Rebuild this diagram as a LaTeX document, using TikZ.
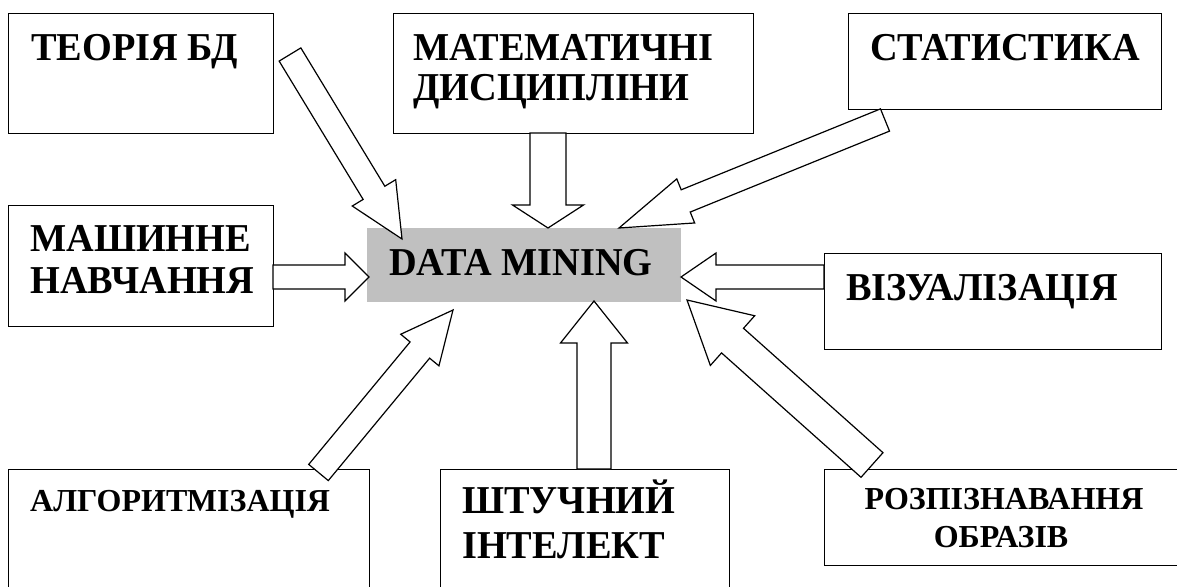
\documentclass[tikz,border=0pt]{standalone}
\usepackage{fontspec}
\setmainfont{Liberation Serif}
\newfontfamily\narrowserif[FakeStretch=0.97]{Liberation Serif}
\usetikzlibrary{calc}
\definecolor{dmgray}{HTML}{C0C0C0}
\tikzset{
  box/.style={draw=black, line width=1.4pt, fill=white, inner sep=0pt, anchor=north west},
  dmbox/.style={fill=dmgray, draw=none, inner sep=0pt, anchor=north west},
  bigtxt/.style={font=\narrowserif\bfseries\fontsize{39.5}{42}\selectfont, inner sep=0pt, anchor=base west},
  midtxt/.style={font=\bfseries\fontsize{32}{34}\selectfont, inner sep=0pt, anchor=base west},
  smalltxt/.style={font=\bfseries\fontsize{32}{34}\selectfont, inner sep=0pt, anchor=base},
  blk/.style={draw=black, line width=1.2pt, fill=white, line join=miter},
}
\newcommand\blockarr[5]{% tail, tip, shaft half, head half, head length
  \coordinate (hb) at ($(#2)!#5!(#1)$);
  \draw[blk] ($(#1)!#3!90:(#2)$) -- ($(hb)!#3!90:(#2)$) -- ($(hb)!#4!90:(#2)$)
    -- (#2) -- ($(hb)!#4!-90:(#2)$) -- ($(hb)!#3!-90:(#2)$) -- ($(#1)!#3!-90:(#2)$) -- cycle;
}
\begin{document}
\begin{tikzpicture}[x=1pt,y=-1pt]
\useasboundingbox (0,0) rectangle (1177,586);
\clip (0,0) rectangle (1177,586);
\fill[white] (0,0) rectangle (1177,586);

% boxes
\node[box, minimum width=265pt, minimum height=120pt] (teor) at (8,13) {};
\node[box, minimum width=360pt, minimum height=120pt] (mat) at (393,13) {};
\node[box, minimum width=313pt, minimum height=96pt] (stat) at (848,13) {};
\node[box, minimum width=265pt, minimum height=121pt] (mash) at (8,205) {};
\node[box, minimum width=337pt, minimum height=96pt] (viz) at (824,253) {};
\node[box, minimum width=361pt, minimum height=150pt] (alg) at (8,469) {};
\node[box, minimum width=289pt, minimum height=150pt] (ai) at (440,469) {};
\node[box, minimum width=370pt, minimum height=96pt] (rozp) at (824,469) {};
\node[dmbox, minimum width=314pt, minimum height=74pt] (dm) at (367,228) {};

% texts
\node[bigtxt] (t1) at (31,60) {ТЕОРІЯ БД};
\node[bigtxt] (t2a) at (413,60) {МАТЕМАТИЧНІ};
\node[bigtxt] (t2b) at (413,100) {ДИСЦИПЛІНИ};
\node[bigtxt] (t3) at (870,60) {СТАТИСТИКА};
\node[bigtxt] (t4a) at (30,251) {МАШИННЕ};
\node[bigtxt] (t4b) at (30,293) {НАВЧАННЯ};
\node[bigtxt] (tdm) at (389,275) {DATA MINING};
\node[bigtxt] (t5) at (846,300) {ВІЗУАЛІЗАЦІЯ};
\node[midtxt] (t6) at (30,511) {АЛГОРИТМІЗАЦІЯ};
\node[bigtxt] (t7a) at (462,513) {ШТУЧНИЙ};
\node[bigtxt] (t7b) at (462,558) {ІНТЕЛЕКТ};
\node[smalltxt] (t8a) at (1004,509) {РОЗПІЗНАВАННЯ};
\node[smalltxt] (t8b) at (1001,547) {ОБРАЗІВ};

% arrow end points
\coordinate (a1t) at (290,54.5);  \coordinate (a1p) at (402,239);
\coordinate (a2t) at (548,133);   \coordinate (a2p) at (548,228);
\coordinate (a3t) at (885,120);   \coordinate (a3p) at (619,228);
\coordinate (a4t) at (273,277);   \coordinate (a4p) at (369,277);
\coordinate (a5t) at (824,277);   \coordinate (a5p) at (681,277);
\coordinate (a6t) at (318.5,472.5); \coordinate (a6p) at (453,310);
\coordinate (a7t) at (594,469);   \coordinate (a7p) at (594,301);
\coordinate (a8t) at (872,465);   \coordinate (a8p) at (687,300);

\blockarr{a1t}{a1p}{12.7pt}{25.4pt}{54pt}
\blockarr{a2t}{a2p}{18pt}{35.5pt}{23pt}
\blockarr{a3t}{a3p}{12pt}{23.8pt}{72pt}
\blockarr{a4t}{a4p}{12pt}{24pt}{24pt}
\blockarr{a5t}{a5p}{12pt}{24pt}{35pt}
\blockarr{a6t}{a6p}{12.7pt}{24.8pt}{52pt}
\blockarr{a7t}{a7p}{17pt}{33.5pt}{42pt}
\blockarr{a8t}{a8p}{16.5pt}{33.3pt}{61pt}
\end{tikzpicture}
\end{document}
